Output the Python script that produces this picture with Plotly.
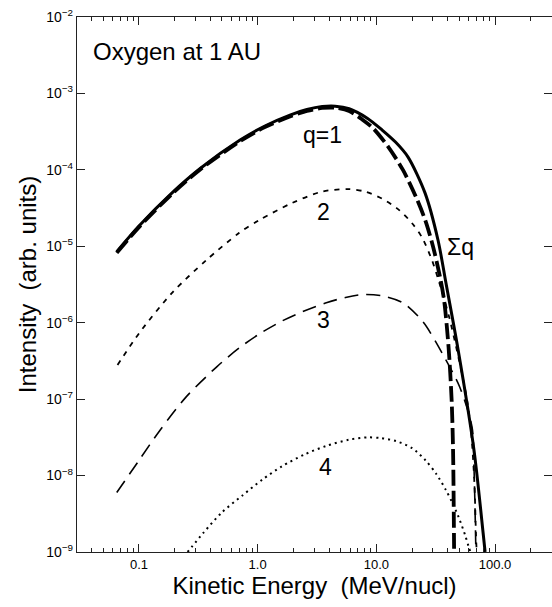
import plotly.graph_objects as go
import math

# ---- data ----
sum_E = [0.065, 0.1, 0.19, 0.33, 0.711, 1.15, 1.87, 2.6, 3.5, 4.5, 5.9, 8.5, 11.2, 14.5, 18.5, 25.7, 33.1, 38.6, 48.9, 66.5, 79.3, 82.5]
sum_I = [8.5e-6, 1.84e-5, 5.0e-5, 1.05e-4, 2.45e-4, 3.75e-4, 5.21e-4, 6.15e-4, 6.73e-4, 6.81e-4, 6.31e-4, 4.68e-4, 3.32e-4, 2.31e-4, 1.47e-4, 5.0e-5, 1.2e-5, 3.3e-6, 4.4e-7, 2.15e-8, 1.8e-9, 1.0e-9]

q1_E = [0.065, 0.1, 0.19, 0.33, 0.711, 1.15, 1.87, 2.6, 3.5, 4.5, 5.9, 7.7, 9.4, 12.6, 16.8, 21.6, 25.8, 30.1, 34.4, 37.2, 40.6, 43.1, 44.3, 45.2]
q1_I = [8.2e-6, 1.78e-5, 4.85e-5, 1.02e-4, 2.37e-4, 3.62e-4, 5.0e-4, 5.9e-4, 6.45e-4, 6.5e-4, 5.9e-4, 4.5e-4, 3.5e-4, 2.0e-4, 9.9e-5, 4.4e-5, 2.2e-5, 9.8e-6, 3.95e-6, 1.98e-6, 4.8e-7, 9.7e-8, 2.15e-8, 1.0e-9]

q2_E = [0.066, 0.101, 0.192, 0.37, 0.7, 1.03, 1.96, 3.5, 5.9, 8.0, 11.2, 15.5, 20.0, 24.3, 29.4, 33.6, 41.0, 49.6, 58.0, 63.0, 67.0, 69.0, 70.0]
q2_I = [2.8e-7, 7.4e-7, 2.5e-6, 6.6e-6, 1.5e-5, 2.2e-5, 3.7e-5, 5.2e-5, 5.6e-5, 5.2e-5, 4.2e-5, 3.0e-5, 2.0e-5, 1.3e-5, 6.6e-6, 3.5e-6, 1.2e-6, 3.3e-7, 1.0e-7, 3.6e-8, 8e-9, 1.8e-9, 1.0e-9]

q3_E = [0.065, 0.1, 0.15, 0.25, 0.45, 0.7, 1.05, 1.6, 2.4, 3.85, 5.5, 7.7, 11.0, 16.8, 24.8, 36.5, 50.7, 64.1, 66.5, 69.0]
q3_I = [6.0e-9, 1.58e-8, 3.9e-8, 1.07e-7, 2.63e-7, 4.68e-7, 7.24e-7, 1.05e-6, 1.40e-6, 1.84e-6, 2.14e-6, 2.34e-6, 2.26e-6, 1.82e-6, 1.02e-6, 3.8e-7, 1.41e-7, 4.27e-8, 1.26e-8, 1.0e-9]

q4_E = [0.257, 0.35, 0.5, 0.745, 1.1, 1.6, 2.5, 3.8, 5.9, 8.5, 11.0, 14.7, 20.0, 26.0, 32.0, 38.5, 43.4, 49.6, 56.0, 60.0, 62.0]
q4_I = [1.0e-9, 1.79e-9, 3.3e-9, 5.5e-9, 8.9e-9, 1.32e-8, 1.9e-8, 2.45e-8, 2.95e-8, 3.16e-8, 3.09e-8, 2.82e-8, 2.29e-8, 1.58e-8, 1.05e-8, 6.5e-9, 4.5e-9, 2.8e-9, 1.66e-9, 1.17e-9, 1.0e-9]

x_tick_vals = [0.1, 1.0, 10.0, 100.0]
x_tick_text = ["0.1", "1.0", "10.0", "100.0"]
y_exponents = [-9, -8, -7, -6, -5, -4, -3, -2]

FONT = "Liberation Sans, Arial, Helvetica, sans-serif"

fig = go.Figure()

def add(E, I, width, dash):
    fig.add_trace(go.Scatter(x=E, y=I, mode="lines",
                             line=dict(color="black", width=width, dash=dash,
                                       shape="spline", smoothing=0.8),
                             showlegend=False, hoverinfo="skip"))

add(q4_E, q4_I, 2.0, "2px,4px")
add(q3_E, q3_I, 1.6, "14px,8px")
add(q2_E, q2_I, 1.8, "5px,6px")
add(sum_E, sum_I, 3.0, "solid")
add(q1_E, q1_I, 3.8, "16px,5px")

minor_vals = []
for dec in range(-2, 3):
    for m in range(2, 10):
        v = m * 10 ** dec
        if 0.03 <= v <= 300:
            minor_vals.append(v)

axis_line = dict(showline=True, linecolor="#222", linewidth=1.3, mirror="allticks",
                 showgrid=False, zeroline=False, ticks="inside", tickcolor="#222")

fig.update_xaxes(type="log", range=[-1.522, 2.48],
                 tickmode="array", tickvals=x_tick_vals, ticktext=x_tick_text,
                 ticklen=8, tickwidth=1,
                 minor=dict(tickmode="array", tickvals=minor_vals, ticks="inside",
                            ticklen=4, tickcolor="#222", tickwidth=1, showgrid=False),
                 tickfont=dict(family=FONT, size=13, color="black"),
                 title=dict(text="Kinetic Energy  (MeV/nucl)", standoff=5,
                            font=dict(family=FONT, size=24, color="black")),
                 **axis_line)

fig.update_yaxes(type="log", range=[-9, -2],
                 tickmode="array", tickvals=[10.0 ** e for e in y_exponents],
                 ticktext=["10<sup>\u2212%d</sup>" % (-e) for e in y_exponents],
                 ticklen=8, tickwidth=1,
                 tickfont=dict(family=FONT, size=14, color="black"),
                 title=dict(text="Intensity  (arb. units)", standoff=2,
                            font=dict(family=FONT, size=24, color="black")),
                 **axis_line)

labels = [("q=1", 3.5, 2.85e-4), ("2", 3.6, 2.8e-5), ("3", 3.6, 1.07e-6),
          ("4", 3.7, 1.3e-8), ("\u03a3q", 50.7, 9.8e-6)]
for txt, lx, ly in labels:
    fig.add_annotation(x=math.log10(lx), y=math.log10(ly), text=txt, showarrow=False,
                       font=dict(family=FONT, size=23, color="black"))

fig.add_annotation(xref="paper", yref="paper", x=0.03, y=0.935, xanchor="left",
                   yanchor="middle", text="Oxygen at 1 AU", showarrow=False,
                   font=dict(family=FONT, size=24, color="black"))

fig.update_layout(width=552, height=607,
                  margin=dict(l=77, r=0, t=17, b=55),
                  paper_bgcolor="white", plot_bgcolor="white")

fig.write_html("out.html", config={"displayModeBar": False},
               post_script="document.body.style.margin='0';")
